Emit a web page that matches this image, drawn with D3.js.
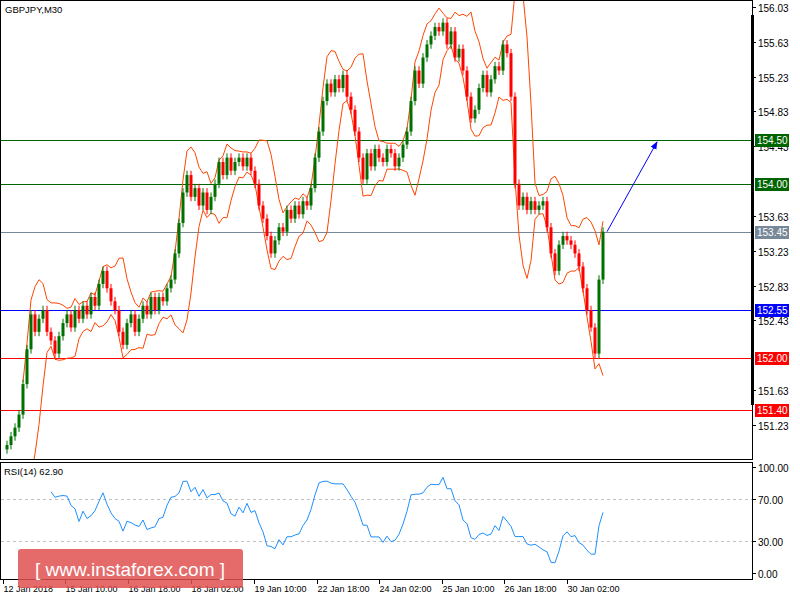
<!DOCTYPE html>
<html><head><meta charset="utf-8">
<script src="https://cdn.jsdelivr.net/npm/d3@7"></script>
<style>body{margin:0;background:#fff}text{font-family:"Liberation Sans",Arial,sans-serif}</style>
</head><body><svg id="c" width="800" height="600"></svg>
<script>
const closes=[150.95,151.0,151.1,151.2,151.35,151.7,152.1,152.5,152.3,152.45,152.55,152.3,152.2,152.05,152.25,152.4,152.5,152.35,152.55,152.45,
152.6,152.5,152.7,152.6,152.85,153.0,152.8,152.65,152.55,152.3,152.15,152.4,152.5,152.3,152.45,152.6,152.5,152.7,152.55,152.7,
152.65,152.8,152.9,153.2,153.55,153.9,154.1,153.85,153.95,153.75,153.9,153.7,153.85,154.0,154.25,154.1,154.3,154.15,154.25,154.3,
154.2,154.3,154.15,154.0,153.75,153.6,153.4,153.2,153.35,153.5,153.45,153.7,153.6,153.75,153.65,153.8,153.75,153.95,154.3,154.6,
154.95,155.15,155.05,155.2,155.1,155.25,155.0,154.85,154.6,154.3,154.05,154.35,154.2,154.4,154.3,154.25,154.4,154.35,154.2,154.3,
154.45,154.6,154.95,155.3,155.15,155.45,155.6,155.7,155.8,155.75,155.85,155.6,155.75,155.45,155.55,155.3,155.0,154.75,154.85,155.1,
155.25,155.05,155.2,155.35,155.3,155.6,155.5,155.0,154.0,153.75,153.85,153.7,153.8,153.7,153.75,153.8,153.5,153.2,153.0,153.3,
153.4,153.35,153.3,153.2,153.05,152.8,152.55,152.35,152.05,152.9,153.45];
const priceTicks=[156.03,155.63,155.23,154.83,154.43,153.63,153.23,152.83,152.43,151.63,151.23];
const levels=[154.50,154.00,153.45,152.55,152.00,151.40];
const levelColors=["#006400","#006400","#778899","#0000ff","#ff0000","#ff0000"];
const timeLabels=["12 Jan 2018","15 Jan 10:00","16 Jan 18:00","18 Jan 02:00","19 Jan 10:00","22 Jan 18:00","24 Jan 02:00","25 Jan 10:00","26 Jan 18:00","30 Jan 02:00"];
const timeIdx=[0,15.5,31.25,47,62.75,78.5,94,109.75,125.25,141];
const rsiTicks=[100,70,30,0];

const svg=d3.select("#c");
const x=d3.scaleLinear().domain([0,150]).range([3,603]);
const y=d3.scaleLinear().domain([151.23,156.03]).range([425,7]);
const yr=d3.scaleLinear().domain([0,100]).range([573,467]);
svg.append("rect").attr("x",0.5).attr("y",0.5).attr("width",752).attr("height",459).attr("fill","none").attr("stroke","#000");
svg.append("rect").attr("x",0.5).attr("y",462.5).attr("width",752).attr("height",117).attr("fill","none").attr("stroke","#000");
const main=svg.append("g");
main.append("clipPath").attr("id","cp").append("rect").attr("x",1).attr("y",1).attr("width",751).attr("height",458);
const g=main.append("g").attr("clip-path","url(#cp)");
levels.forEach((l,i)=>{g.append("line").attr("x1",0).attr("x2",752).attr("y1",Math.round(y(l))+0.5).attr("y2",Math.round(y(l))+0.5).attr("stroke",levelColors[i]);});
const P=6;const up=[],lo=[];
closes.forEach((c,i)=>{if(i<P-1)return;const s=closes.slice(i-P+1,i+1);const m=d3.mean(s);const sd=Math.sqrt(d3.mean(s,v=>(v-m)**2));up.push([i,m+2*sd]);lo.push([i,m-2*sd]);});
const ln=d3.line().x(d=>x(d[0])).y(d=>y(d[1]));
[up,lo].forEach(b=>g.append("path").attr("d",ln(b)).attr("fill","none").attr("stroke","#ff4500").attr("stroke-width",1));
closes.forEach((c,i)=>{if(i===0)return;const o=closes[i-1];const hi=Math.max(o,c)+0.05,lw=Math.min(o,c)-0.05;const col=c>=o?"#007000":"#ff0000";
g.append("line").attr("x1",x(i)).attr("x2",x(i)).attr("y1",y(hi)).attr("y2",y(lw)).attr("stroke",col);
g.append("rect").attr("x",x(i)-1.5).attr("width",3).attr("y",y(Math.max(o,c))).attr("height",Math.max(1,Math.abs(y(o)-y(c)))).attr("fill",col);});
svg.append("defs").append("marker").attr("id","ar").attr("viewBox","0 0 10 10").attr("refX",9).attr("refY",5).attr("markerWidth",8).attr("markerHeight",8).attr("orient","auto").append("path").attr("d","M0,1L10,5L0,9Z").attr("fill","#0000ff");
g.append("line").attr("x1",x(151)).attr("y1",y(153.45)).attr("x2",x(163.5)).attr("y2",y(154.48)).attr("stroke","#0000ff").attr("marker-end","url(#ar)");
svg.append("rect").attr("x",751).attr("y",15).attr("width",3).attr("height",390).attr("fill","#000");
priceTicks.forEach(t=>{const yy=Math.round(y(t))+0.5;svg.append("line").attr("x1",752).attr("x2",756).attr("y1",yy).attr("y2",yy).attr("stroke","#000");
svg.append("text").attr("x",758).attr("y",yy+4).attr("font-size",10).text(t.toFixed(2));});
levels.forEach((l,i)=>{const yy=Math.round(y(l));svg.append("rect").attr("x",755).attr("y",yy-6).attr("width",34).attr("height",13).attr("fill",levelColors[i]);
svg.append("text").attr("x",757).attr("y",yy+4).attr("font-size",10).attr("fill","#fff").text(l.toFixed(2));});
svg.append("text").attr("x",5).attr("y",13).attr("font-size",9.5).text("GBPJPY,M30");
const RP=12;const rsi=[];
for(let i=RP;i<closes.length;i++){let gsum=0,lsum=0;for(let j=i-RP+1;j<=i;j++){const d=closes[j]-closes[j-1];if(d>0)gsum+=d;else lsum-=d;}rsi.push([i,lsum===0?100:100-100/(1+gsum/lsum)]);}
[70,30].forEach(v=>svg.append("line").attr("x1",1).attr("x2",752).attr("y1",Math.round(yr(v))+0.5).attr("y2",Math.round(yr(v))+0.5).attr("stroke","#c0c0c0").attr("stroke-dasharray","3,3"));
svg.append("path").attr("d",d3.line().x(d=>x(d[0])).y(d=>yr(d[1]))(rsi)).attr("fill","none").attr("stroke","#1e90ff");
rsiTicks.forEach(t=>{const yy=Math.round(yr(t))+0.5;svg.append("line").attr("x1",752).attr("x2",756).attr("y1",yy).attr("y2",yy).attr("stroke","#000");
svg.append("text").attr("x",758).attr("y",yy+4).attr("font-size",10).text(t.toFixed(2));});
svg.append("text").attr("x",4).attr("y",475).attr("font-size",9.5).text("RSI(14) 62.90");
timeIdx.forEach((t,i)=>{const xx=Math.round(x(t))+0.5;svg.append("line").attr("x1",xx).attr("x2",xx).attr("y1",580).attr("y2",584).attr("stroke","#000");
svg.append("text").attr("x",xx).attr("y",592).attr("font-size",9).text(timeLabels[i]);});
svg.append("rect").attr("x",18).attr("y",549).attr("width",225).attr("height",39).attr("rx",3).attr("fill","#e05050").attr("opacity",0.85);
svg.append("text").attr("x",130).attr("y",576).attr("text-anchor","middle").attr("font-size",19).attr("fill","#fff").text("[  www.instaforex.com ]");
</script></body></html>
